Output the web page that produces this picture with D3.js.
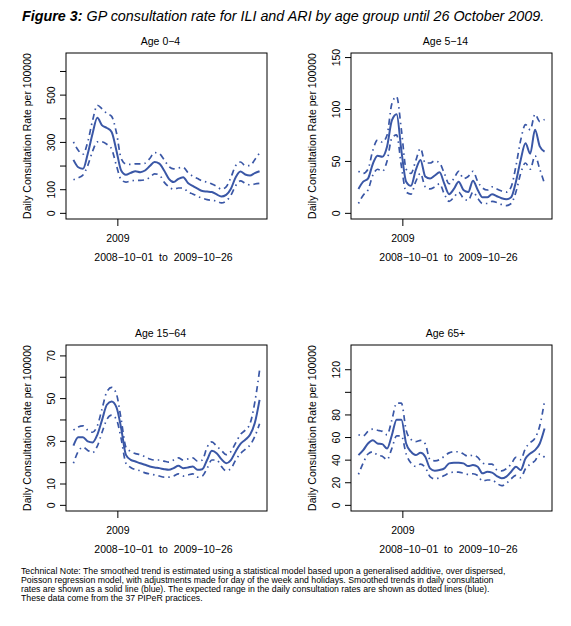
<!DOCTYPE html>
<html>
<head>
<meta charset="utf-8">
<script src="https://cdn.jsdelivr.net/npm/d3@7"></script>
<style>
  body { margin: 0; background: #fff; }
  svg { display: block; font-family: "Liberation Sans", Arial, Helvetica, sans-serif; }
  .axis text { font-size: 10.5px; fill: #000; }
  .axis path, .axis line { stroke: #000; stroke-width: 1; }
  .pre { white-space: pre; }
</style>
</head>
<body>
<svg id="chart" width="571" height="626"></svg>
<script>
// sample dates (every 10 days), shared by all four panels
var dates = ["2008-10-01","2008-10-11","2008-10-21","2008-10-31","2008-11-10","2008-11-20","2008-11-30",
  "2008-12-10","2008-12-20","2008-12-30","2009-01-09","2009-01-19","2009-01-29","2009-02-08","2009-02-18",
  "2009-02-28","2009-03-10","2009-03-20","2009-03-30","2009-04-09","2009-04-19","2009-04-29","2009-05-09",
  "2009-05-19","2009-05-29","2009-06-08","2009-06-18","2009-06-28","2009-07-08","2009-07-18","2009-07-28",
  "2009-08-07","2009-08-17","2009-08-27","2009-09-06","2009-09-16","2009-09-26","2009-10-06","2009-10-16",
  "2009-10-26"];

var groups = ["Age 0\u22124", "Age 5\u221214", "Age 15\u221264", "Age 65+"];

// Age 0-4
var trend0 = [224,193,186,250,335,402,370,359,342,264,179,161,169,176,172,179,198,215,208,179,144,130,144,151,
  126,114,102,92,90,88,78,69,76,102,151,175,162,158,168,176];
var upper0 = [300,265,248,300,390,455,440,420,408,340,230,207,205,207,207,210,230,255,250,225,196,186,190,192,
  170,155,145,135,130,122,112,100,110,150,200,215,200,200,225,253];
var lower0 = [140,148,160,200,260,300,300,290,270,200,140,130,135,137,137,140,150,165,160,130,110,100,105,105,
  88,80,70,62,56,53,50,42,50,75,115,135,125,118,122,125];

// Age 5-14
var trend1 = [23,30,33,47,55,54,64,89,95,60,30,26,41,51,35,33,36,39,28,18,23,30,22,20,31,22,15,15,18,16,14,13,
  15,30,51,67,57,80,64,59];
var upper1 = [40,38,42,60,70,68,75,105,112,80,42,38,50,62,48,48,50,48,38,28,33,40,33,35,40,30,24,22,25,23,21,20,
  25,45,70,85,80,95,88,90];
var lower1 = [9,17,22,36,42,40,50,72,75,45,20,18,30,38,25,23,25,28,18,11,15,20,14,12,20,14,9,9,11,10,8,7,9,20,
  38,48,42,55,42,28];

// Age 15-64
var trend2 = [27.7,31.7,31.7,29.7,29.2,32.8,39.8,46.9,48.4,45.8,35.9,23.4,21.1,20.3,19.5,18.8,18,17.5,17.2,16.7,
  16.4,17.2,18.3,17.2,17.5,18,16.4,16.7,21,25.3,24.2,21.4,19.5,21,25,28.6,30.5,32.8,38.3,49.2];
var upper2 = [35,36.5,37,35,34,37,45,53,55,52,40,27,25,24,23.5,22.5,21.5,21,21,20.5,20,21,22,21,21.5,22,20.5,21,
  27,29.5,27.5,25.5,23.5,25,29,33,35,38,48,63];
var lower2 = [19.5,25,27,25.5,24.5,27.5,34,40,42,40,31,19.5,17.5,16.5,16,15,14.5,14,13.5,13,13,13.5,14.5,13.5,
  14,14.5,13,13.5,17,21,21,18,16,17,21,24,26,28,32,38];

// Age 65+
var trend3 = [44,48.4,54.3,57.2,54.3,53.7,49.9,61.6,75.4,75.4,54.3,47,44,46,42.5,32.3,30.2,30.8,32.3,36.7,37.3,
  37.3,36.7,34.3,35.2,33.7,27.9,29.3,28.5,25.5,23.5,25,29.3,33.7,30.8,41,45.5,48.4,54.3,67.5];
var upper3 = [62,61,65,67,66,65,62,75,90,90,66,58,56,57,54,40,39,40,43,46,47,47,45,43,44,42,37,36,36,31,30,32,36,
  42,40,50,55,59,70,92];
var lower3 = [27,37,45,47,44,43,40,50,61,61,45,37,34,36,33,25,23,24,26,28,29,29,28,27,27.5,26,21,22,22,19,17,19,
  23,26,24,32,36,39,45,42];

// y limits and axis ticks per panel
var yLimits = [[0, 650], [0, 148], [0, 72], [0, 136]];
var yTicks = [[0,100,200,300,400,500,600], [0,50,100,150], [0,10,20,30,40,50,60,70], [0,20,40,60,80,100,120]];
var yTickLabels = [[0,100,300,500], [0,50,100,150], [0,10,30,50,70], [0,20,40,60,80,120]];
var xTickDates = ["2009-01-01"];
var xTickLabels = ["2009"];
var dateRangeLabel = "2008\u221210\u221201  to  2009\u221210\u221226";

var titleBold = "Figure 3:";
var titleRest = " GP consultation rate for ILI and ARI by age group until 26 October 2009.";
var noteLines = [
  "Technical Note: The smoothed trend is estimated using a statistical model based upon a generalised additive, over dispersed,",
  "Poisson regression model, with adjustments made for day of the week and holidays. Smoothed trends in daily consultation",
  "rates are shown as a solid line (blue). The expected range in the daily consultation rates are shown as dotted lines (blue).",
  "These data come from the 37 PIPeR practices."
];

var series = [
  { trend: trend0, upper: upper0, lower: lower0 },
  { trend: trend1, upper: upper1, lower: lower1 },
  { trend: trend2, upper: upper2, lower: lower2 },
  { trend: trend3, upper: upper3, lower: lower3 }
];

var LINE_COLOR = "#3a57a6";
var PANEL_W = 201, PANEL_H = 166;
var panelPos = [[66, 53], [351, 53], [66, 345], [351, 345]];

var parseDate = d3.timeParse("%Y-%m-%d");
var svg = d3.select("#chart");

// R style axis: 4% padding on both ends
function padded(lo, hi) {
  var p = (hi - lo) * 0.04;
  return [lo - p, hi + p];
}

function drawPanel(i) {
  var left = panelPos[i][0], top = panelPos[i][1];
  var g = svg.append("g").attr("transform", "translate(" + left + "," + top + ")");
  var dts = dates.map(parseDate);

  var xExt = d3.extent(dts);
  var padDays = (xExt[1] - xExt[0]) * 0.04;
  var x = d3.scaleTime()
    .domain([new Date(+xExt[0] - padDays), new Date(+xExt[1] + padDays)])
    .range([0, PANEL_W]);
  var y = d3.scaleLinear()
    .domain(padded(yLimits[i][0], yLimits[i][1]))
    .range([PANEL_H, 0]);

  var s = series[i];
  var rows = dts.map(function (d, k) {
    return { date: d, trend: s.trend[k], upper: s.upper[k], lower: s.lower[k] };
  });

  ["upper", "lower", "trend"].forEach(function (key) {
    var line = d3.line()
      .x(function (d) { return x(d.date); })
      .y(function (d) { return y(d[key]); })
      .curve(d3.curveMonotoneX);
    var p = g.append("path")
      .attr("d", line(rows))
      .attr("fill", "none")
      .attr("stroke", LINE_COLOR);
    if (key == "trend") {
      p.attr("stroke-width", 2);
    } else {
      p.attr("stroke-width", 1.7).attr("stroke-dasharray", "1.5 4 6 4");
    }
  });

  // y axis
  var yAxis = d3.axisLeft(y)
    .tickValues(yTicks[i])
    .tickSize(6)
    .tickSizeOuter(0)
    .tickPadding(4)
    .tickFormat(function (d) { return yTickLabels[i].indexOf(d) >= 0 ? d : ""; });
  var ya = g.append("g").attr("class", "axis").call(yAxis);
  ya.select(".domain").remove();
  ya.selectAll(".tick text")
    .attr("x", null).attr("dy", null)
    .attr("text-anchor", "middle")
    .attr("transform", "translate(-11,0) rotate(-90)")
    .attr("y", 0);

  // x axis
  var xAxis = d3.axisBottom(x)
    .tickValues(xTickDates.map(parseDate))
    .tickSize(7)
    .tickSizeOuter(0)
    .tickPadding(9)
    .tickFormat(function (d, k) { return xTickLabels[k]; });
  var xa = g.append("g").attr("class", "axis")
    .attr("transform", "translate(0," + PANEL_H + ")")
    .call(xAxis);
  xa.select(".domain").remove();

  // box
  g.append("rect")
    .attr("width", PANEL_W).attr("height", PANEL_H)
    .attr("fill", "none").attr("stroke", "#000").attr("stroke-width", 1);

  // labels
  g.append("text")
    .attr("x", PANEL_W / 2 - 6).attr("y", -8)
    .attr("text-anchor", "middle")
    .attr("font-size", "10.5px")
    .text(groups[i]);

  g.append("text")
    .attr("class", "pre")
    .attr("x", PANEL_W / 2 - 3).attr("y", PANEL_H + 42)
    .attr("text-anchor", "middle")
    .attr("font-size", "10.5px")
    .text(dateRangeLabel);

  g.append("text")
    .attr("transform", "translate(" + (-35) + "," + (PANEL_H / 2) + ") rotate(-90)")
    .attr("text-anchor", "middle")
    .attr("font-size", "10.5px")
    .text("Daily Consultation Rate per 100000");
}

for (var i = 0; i < 4; i++) {
  drawPanel(i);
}

// figure title
var title = svg.append("text")
  .attr("x", 22).attr("y", 21)
  .attr("font-size", "14px")
  .attr("font-style", "italic");
title.append("tspan").attr("font-weight", "bold").text(titleBold);
title.append("tspan").text(titleRest);
var tw = title.node().getComputedTextLength();
title.attr("font-size", (14 * 523 / tw) + "px");

// technical note
var note = svg.append("g").attr("font-size", "8px");
noteLines.forEach(function (t, k) {
  note.append("text")
    .attr("x", 21).attr("y", 574 + k * 8.9)
    .text(t);
});
var nw = note.select("text").node().getComputedTextLength();
note.attr("font-size", (8 * 485 / nw) + "px");
</script>
</body>
</html>
